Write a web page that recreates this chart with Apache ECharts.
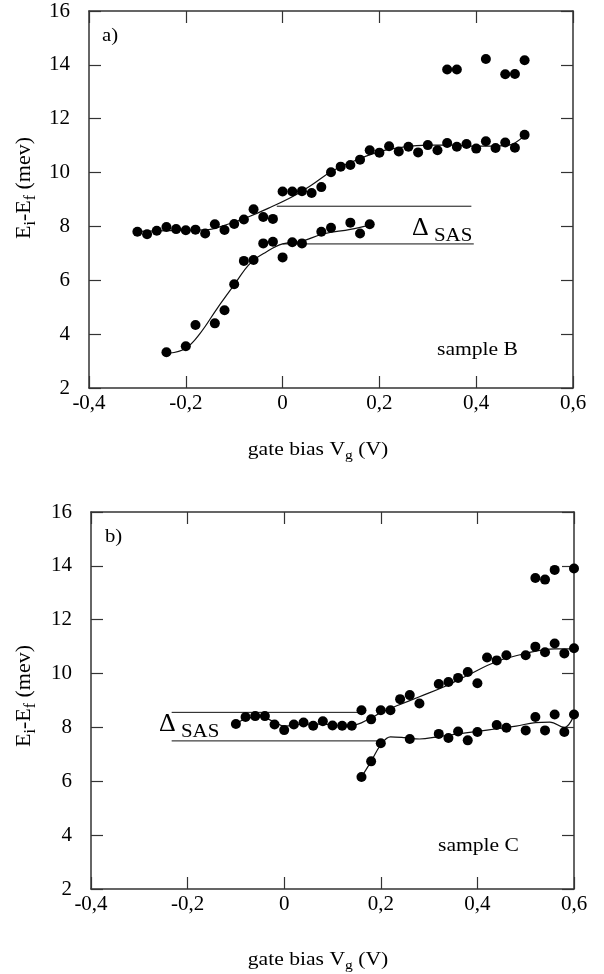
<!DOCTYPE html>
<html>
<head>
<meta charset="utf-8">
<script src="https://cdn.jsdelivr.net/npm/echarts@6/dist/echarts.min.js"></script>
<style>
  html, body { margin: 0; background: #fff; }
  #main { width: 604px; height: 974px; }
</style>
</head>
<body>
<div id="main"></div>
<script>
// ---- panel a) sample B ----
const vA_up = [-0.30,-0.28,-0.26,-0.24,-0.22,-0.20,-0.18,-0.16,-0.14,-0.12,-0.10,-0.08,-0.06,-0.04,-0.02,0.00,0.02,0.04,0.06,0.08,0.10,0.12,0.14,0.16,0.18,0.20,0.22,0.24,0.26,0.28,0.30,0.32,0.34,0.36,0.38,0.40,0.42,0.44,0.46,0.48,0.50];
const eA_up = [7.80,7.71,7.84,7.98,7.90,7.86,7.88,7.74,8.08,7.87,8.09,8.26,8.64,8.35,8.28,9.30,9.30,9.31,9.24,9.46,10.01,10.22,10.28,10.48,10.83,10.74,10.98,10.78,10.96,10.75,11.02,10.83,11.10,10.96,11.06,10.89,11.16,10.91,11.12,10.92,11.40];
const vA_hi = [0.34,0.36,0.42,0.46,0.48,0.50];
const eA_hi = [13.83,13.83,14.22,13.65,13.66,14.17];
const vA_lo = [-0.24,-0.20,-0.18,-0.14,-0.12,-0.10,-0.08,-0.06,-0.04,-0.02,0.00,0.02,0.04,0.08,0.10,0.14,0.16,0.18];
const eA_lo = [3.33,3.55,4.34,4.40,4.89,5.85,6.72,6.75,7.37,7.43,6.85,7.41,7.37,7.80,7.95,8.14,7.74,8.08];
// fitted curves
const fA_up_x = [-0.30,-0.20,-0.16,-0.11,-0.07,-0.03,0.02,0.06,0.10,0.15,0.20,0.25,0.30,0.35,0.40,0.46,0.48,0.50];
const fA_up_y = [7.82,7.86,7.87,8.10,8.36,8.67,9.10,9.54,10.03,10.45,10.78,10.95,11.02,11.02,10.98,11.00,11.10,11.38];
const fA_lo_x = [-0.235,-0.20,-0.17,-0.135,-0.10,-0.067,-0.033,0.00,0.036,0.084,0.14,0.18];
const fA_lo_y = [3.29,3.48,4.04,4.96,5.83,6.63,7.06,7.35,7.43,7.72,7.89,8.05];
// Delta_SAS guide lines
const dA_hi_x = [-0.012,0.39], dA_hi_y = [8.75,8.75];
const dA_lo_x = [0.00,0.395], dA_lo_y = [7.35,7.35];

// ---- panel b) sample C ----
const vB_up = [-0.10,-0.08,-0.06,-0.04,-0.02,0.00,0.02,0.04,0.06,0.08,0.10,0.12,0.14,0.16,0.18,0.20,0.22,0.24,0.26,0.28,0.32,0.34,0.36,0.38,0.40,0.42,0.44,0.46,0.50,0.52,0.54,0.56,0.58,0.60];
const eB_up = [8.13,8.39,8.42,8.42,8.11,7.90,8.11,8.18,8.06,8.23,8.07,8.06,8.06,8.64,8.30,8.64,8.64,9.05,9.20,8.89,9.61,9.69,9.84,10.06,9.64,10.60,10.49,10.68,10.68,11.00,10.79,11.12,10.75,10.94];
const vB_hi = [0.52,0.54,0.56,0.60];
const eB_hi = [13.55,13.49,13.85,13.90];
const vB_lo = [0.16,0.18,0.20,0.26,0.32,0.34,0.36,0.38,0.40,0.44,0.46,0.50,0.52,0.54,0.56,0.58,0.60];
const eB_lo = [6.16,6.74,7.41,7.57,7.76,7.61,7.85,7.52,7.83,8.09,7.99,7.89,8.39,7.89,8.48,7.83,8.48];
const fB_up_x = [-0.10,-0.08,-0.05,-0.02,0.00,0.04,0.08,0.12,0.14,0.18,0.20,0.24,0.28,0.33,0.38,0.44,0.50,0.56,0.60];
const fB_up_y = [8.13,8.32,8.40,8.20,8.05,8.12,8.12,8.08,8.08,8.35,8.55,8.85,9.14,9.50,9.94,10.45,10.75,10.92,10.92];
const fB_lo_x = [0.16,0.18,0.20,0.22,0.25,0.28,0.32,0.36,0.40,0.44,0.48,0.52,0.55,0.58,0.60];
const fB_lo_y = [6.16,6.74,7.35,7.65,7.62,7.57,7.66,7.76,7.85,7.95,8.05,8.18,8.20,8.00,8.45];
const dB_hi_x = [-0.233,0.16], dB_hi_y = [8.56,8.56];
const dB_lo_x = [-0.233,0.20], dB_lo_y = [7.50,7.50];

const FONT = 'Liberation Serif';
const AX = '#333';
const zip = (xs, ys) => xs.map((x, i) => [x, ys[i]]);

const chart = echarts.init(document.getElementById('main'));

function xAx(grid, pos, labels) {
  return {
    type: 'value', gridIndex: grid, position: pos,
    min: -0.4, max: 0.6, interval: 0.2,
    axisLine: { show: true, onZero: false, lineStyle: { color: AX, width: 1.5 } },
    axisTick: { show: true, inside: true, length: 12, lineStyle: { color: AX, width: 1.2 } },
    axisLabel: {
      show: labels, margin: 5, color: '#000', fontFamily: FONT, fontSize: 21,
      formatter: v => String(Math.round(v * 10) / 10).replace('.', ',')
    },
    splitLine: { show: false }
  };
}
function yAx(grid, pos, labels) {
  return {
    type: 'value', gridIndex: grid, position: pos,
    min: 2, max: 16, interval: 2,
    axisLine: { show: true, onZero: false, lineStyle: { color: AX, width: 1.5 } },
    axisTick: { show: true, inside: true, length: 12, lineStyle: { color: AX, width: 1.2 } },
    axisLabel: { show: labels, margin: 19, color: '#000', fontFamily: FONT, fontSize: 21 },
    splitLine: { show: false }
  };
}

function dots(xs, ys, g) {
  return { type: 'scatter', xAxisIndex: g * 2, yAxisIndex: g * 2, data: zip(xs, ys),
    symbolSize: 10, itemStyle: { color: '#000', opacity: 1 }, z: 3 };
}
function curve(xs, ys, g, smooth, w) {
  return { type: 'line', xAxisIndex: g * 2, yAxisIndex: g * 2, data: zip(xs, ys),
    smooth: smooth, showSymbol: false, lineStyle: { color: '#111', width: w }, z: 2 };
}

function txt(x, y, text, size, sx) {
  return { type: 'text', x: x, y: y, scaleX: sx || 1,
    style: { text: text, fontFamily: FONT, fontSize: size, fill: '#000', verticalAlign: 'middle' } };
}
function richTxt(x, y, text, size, sx, rot) {
  return { type: 'text', x: x, y: y, rotation: rot || 0, scaleX: sx || 1,
    style: { text: text, align: 'center', verticalAlign: 'middle',
      rich: {
        m: { fontSize: size, fontFamily: FONT, lineHeight: size, verticalAlign: 'top', color: '#000' },
        s: { fontSize: Math.round(size * 0.72), fontFamily: FONT, padding: [Math.round(size * 0.42), 0, 0, 0], verticalAlign: 'bottom', color: '#000' }
      } } };
}

const option = {
  animation: false,
  backgroundColor: '#fff',
  grid: [
    { left: 89, top: 11, width: 484, height: 377 },
    { left: 91, top: 512, width: 483, height: 377 }
  ],
  xAxis: [xAx(0, 'bottom', true), xAx(0, 'top', false), xAx(1, 'bottom', true), xAx(1, 'top', false)],
  yAxis: [yAx(0, 'left', true), yAx(0, 'right', false), yAx(1, 'left', true), yAx(1, 'right', false)],
  series: [
    dots(vA_up, eA_up, 0), dots(vA_hi, eA_hi, 0), dots(vA_lo, eA_lo, 0),
    curve(fA_up_x, fA_up_y, 0, 0.4, 1.2), curve(fA_lo_x, fA_lo_y, 0, 0.4, 1.2),
    curve(dA_hi_x, dA_hi_y, 0, false, 1), curve(dA_lo_x, dA_lo_y, 0, false, 1),
    dots(vB_up, eB_up, 1), dots(vB_hi, eB_hi, 1), dots(vB_lo, eB_lo, 1),
    curve(fB_up_x, fB_up_y, 1, 0.4, 1.2), curve(fB_lo_x, fB_lo_y, 1, 0.4, 1.2),
    curve(dB_hi_x, dB_hi_y, 1, false, 1), curve(dB_lo_x, dB_lo_y, 1, false, 1)
  ],
  graphic: [
    txt(102, 36, 'a)', 18, 1.15),
    txt(105, 537, 'b)', 18, 1.15),
    txt(437, 350, 'sample B', 18, 1.2),
    txt(438, 846, 'sample C', 18, 1.2),
    txt(412, 228, 'Δ', 26),
    txt(434, 236, 'SAS', 19, 1.1),
    txt(159, 724, 'Δ', 26),
    txt(181, 732, 'SAS', 19, 1.1),
    richTxt(318, 452, '{m|gate bias V}{s|g}{m| (V)}', 18, 1.2),
    richTxt(318, 962, '{m|gate bias V}{s|g}{m| (V)}', 18, 1.2),
    richTxt(26, 188, '{m|E}{s|i}{m|-E}{s|f}{m| (mev)}', 22, 1, Math.PI / 2),
    richTxt(26, 696, '{m|E}{s|i}{m|-E}{s|f}{m| (mev)}', 22, 1, Math.PI / 2)
  ]
};
chart.setOption(option);
</script>
</body>
</html>
